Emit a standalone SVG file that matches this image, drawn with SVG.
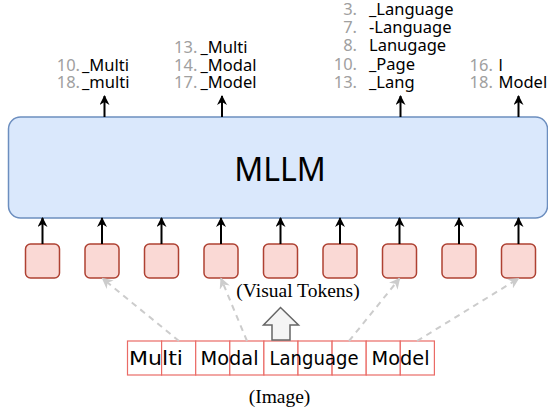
<svg xmlns="http://www.w3.org/2000/svg" width="548" height="412" viewBox="0 0 548 412">
<style>
.lbl{font-family:"Noto Sans","Open Sans",sans-serif;font-size:16.5px;fill:#000}
.num{fill:#a0a0a0}
.tok{fill:#fad9d5;stroke:#ae4132;stroke-width:1.5}
.ar{stroke:#000;stroke-width:2;fill:none}
.da{stroke:#cccccc;stroke-width:2;stroke-dasharray:6 5;fill:none}
.ser{font-family:"Liberation Serif","Times New Roman",serif;font-size:19.5px;fill:#000;text-anchor:middle}
.hand{font-family:"DejaVu Sans",sans-serif;font-size:19px;fill:#000}
.cell{fill:#fff;stroke:#ea6b66;stroke-width:1.2}
</style>
<defs>
<marker id="ah" viewBox="0 0 10 10" refX="9" refY="5" markerWidth="10" markerHeight="10" markerUnits="userSpaceOnUse" orient="auto">
<path d="M0,0 L10,5 L0,10 L3,5 Z" fill="#000"/>
</marker>
<marker id="gh" viewBox="0 0 10 10" refX="9" refY="5" markerWidth="11" markerHeight="11" markerUnits="userSpaceOnUse" orient="auto">
<path d="M0,0 L10,5 L0,10 L3,5 Z" fill="#cccccc"/>
</marker>
</defs>

<g id="mllm">
<rect x="8.5" y="117" width="539" height="101" rx="12" fill="#dae8fc" stroke="#6c8ebf" stroke-width="1.5"/>
<text x="280" y="181" font-family="Noto Sans, sans-serif" font-size="32" text-anchor="middle" fill="#000">MLLM</text>
</g>

<g id="tokens">
<rect class="tok" x="25.5" y="244" width="34" height="34" rx="5"/>
<rect class="tok" x="85" y="244" width="34" height="34" rx="5"/>
<rect class="tok" x="144.5" y="244" width="34" height="34" rx="5"/>
<rect class="tok" x="204" y="244" width="34" height="34" rx="5"/>
<rect class="tok" x="263.5" y="244" width="34" height="34" rx="5"/>
<rect class="tok" x="323" y="244" width="34" height="34" rx="5"/>
<rect class="tok" x="382.5" y="244" width="34" height="34" rx="5"/>
<rect class="tok" x="442" y="244" width="34" height="34" rx="5"/>
<rect class="tok" x="501.5" y="244" width="34" height="34" rx="5"/>
</g>

<g id="image">
<rect class="cell" x="127.5" y="341" width="34.1" height="34"/>
<rect class="cell" x="161.6" y="341" width="34.1" height="34"/>
<rect class="cell" x="195.7" y="341" width="34.1" height="34"/>
<rect class="cell" x="229.8" y="341" width="34.1" height="34"/>
<rect class="cell" x="263.9" y="341" width="34.1" height="34"/>
<rect class="cell" x="298" y="341" width="34.1" height="34"/>
<rect class="cell" x="332.1" y="341" width="34.1" height="34"/>
<rect class="cell" x="366.2" y="341" width="34.1" height="34"/>
<rect class="cell" x="400.3" y="341" width="34.1" height="34"/>
<text class="hand" x="129" y="365" textLength="54" lengthAdjust="spacingAndGlyphs">Multi</text>
<text class="hand" x="200.5" y="365" textLength="58" lengthAdjust="spacingAndGlyphs">Modal</text>
<text class="hand" x="269.5" y="365" textLength="89" lengthAdjust="spacingAndGlyphs">Language</text>
<text class="hand" x="371.5" y="365" textLength="58" lengthAdjust="spacingAndGlyphs">Model</text>
</g>

<g id="blockarrow">
<path d="M272,340 L272,325 L263.5,325 L280.5,307.5 L298.5,325 L290,325 L290,340 Z" fill="#f5f5f5" stroke="#666" stroke-width="1.5"/>
</g>

<g id="captions">
<text class="ser" x="298" y="297">(Visual Tokens)</text>
<text class="ser" x="279.5" y="403">(Image)</text>
</g>

<g id="outputs" class="lbl">
<text x="56.7" y="70.6"><tspan class="num">10.</tspan><tspan x="82">_Multi</tspan></text>
<text x="56.7" y="88.3"><tspan class="num">18.</tspan><tspan x="82">_multi</tspan></text>
<text x="174" y="52.9"><tspan class="num">13.</tspan><tspan x="200.5">_Multi</tspan></text>
<text x="174" y="70.6"><tspan class="num">14.</tspan><tspan x="200.5">_Modal</tspan></text>
<text x="174" y="88.3"><tspan class="num">17.</tspan><tspan x="200.5">_Model</tspan></text>
<text x="357" y="14.5" class="num" text-anchor="end">3.</text><text x="369" y="14.5">_Language</text>
<text x="357" y="32.8" class="num" text-anchor="end">7.</text><text x="369" y="32.8">-Language</text>
<text x="357" y="51.2" class="num" text-anchor="end">8.</text><text x="369" y="51.2">Lanugage</text>
<text x="357" y="69.8" class="num" text-anchor="end">10.</text><text x="369" y="69.8">_Page</text>
<text x="357" y="88.3" class="num" text-anchor="end">13.</text><text x="369" y="88.3">_Lang</text>
<text x="469.5" y="70.6"><tspan class="num">16.</tspan><tspan x="498.5">l</tspan></text>
<text x="469.5" y="88.3"><tspan class="num">18.</tspan><tspan x="498.5">Model</tspan></text>
</g>

<g id="connectors">
<line class="ar" x1="104.5" y1="117" x2="104.5" y2="96" marker-end="url(#ah)"/>
<line class="ar" x1="222" y1="117" x2="222" y2="96" marker-end="url(#ah)"/>
<line class="ar" x1="400.5" y1="117" x2="400.5" y2="96" marker-end="url(#ah)"/>
<line class="ar" x1="518.5" y1="117" x2="518.5" y2="96" marker-end="url(#ah)"/>
<line class="ar" x1="42.5" y1="244" x2="42.5" y2="218" marker-end="url(#ah)"/>
<line class="ar" x1="102" y1="244" x2="102" y2="218" marker-end="url(#ah)"/>
<line class="ar" x1="161.5" y1="244" x2="161.5" y2="218" marker-end="url(#ah)"/>
<line class="ar" x1="221" y1="244" x2="221" y2="218" marker-end="url(#ah)"/>
<line class="ar" x1="280.5" y1="244" x2="280.5" y2="218" marker-end="url(#ah)"/>
<line class="ar" x1="340" y1="244" x2="340" y2="218" marker-end="url(#ah)"/>
<line class="ar" x1="399.5" y1="244" x2="399.5" y2="218" marker-end="url(#ah)"/>
<line class="ar" x1="459" y1="244" x2="459" y2="218" marker-end="url(#ah)"/>
<line class="ar" x1="518.5" y1="244" x2="518.5" y2="218" marker-end="url(#ah)"/>
<line class="da" x1="179" y1="341" x2="102.5" y2="278.5" marker-end="url(#gh)"/>
<line class="da" x1="247" y1="341" x2="221" y2="278.5" marker-end="url(#gh)"/>
<line class="da" x1="349" y1="341" x2="399.5" y2="278.5" marker-end="url(#gh)"/>
<line class="da" x1="417" y1="341" x2="518.5" y2="278.5" marker-end="url(#gh)"/>
</g>
</svg>
